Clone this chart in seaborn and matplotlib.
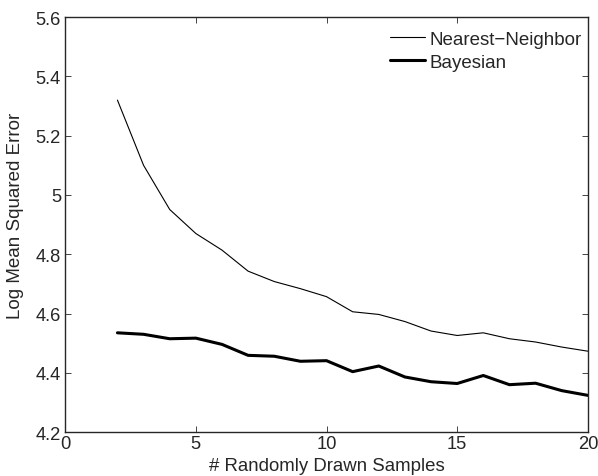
import numpy as np
import pandas as pd
import matplotlib
matplotlib.use('Agg')
import matplotlib.pyplot as plt
import seaborn as sns

# Data
samples = list(range(2, 21))
nearest_neighbor = [5.320, 5.100, 4.951, 4.870, 4.814, 4.743, 4.708, 4.684, 4.657, 4.606,
                    4.597, 4.573, 4.541, 4.526, 4.535, 4.515, 4.504, 4.487, 4.473]
bayesian = [4.535, 4.530, 4.515, 4.517, 4.496, 4.459, 4.456, 4.439, 4.441, 4.404,
            4.423, 4.386, 4.370, 4.364, 4.391, 4.360, 4.365, 4.340, 4.324]

df = pd.DataFrame({
    'samples': samples * 2,
    'error': nearest_neighbor + bayesian,
    'method': ['Nearest\u2212Neighbor'] * len(samples) + ['Bayesian'] * len(samples),
})

sns.set_style('ticks')
plt.rcParams['font.family'] = ['Liberation Sans', 'DejaVu Sans']
plt.rcParams['xtick.direction'] = 'in'
plt.rcParams['ytick.direction'] = 'in'

fig = plt.figure(figsize=(5.98, 4.77), dpi=100)
ax = fig.add_axes([0.109, 0.092, 0.874, 0.870])

sns.lineplot(data=df, x='samples', y='error', hue='method', size='method',
             sizes={'Nearest\u2212Neighbor': 0.8, 'Bayesian': 2.2},
             palette={'Nearest\u2212Neighbor': 'black', 'Bayesian': 'black'},
             ax=ax)

ax.set_xlim(0, 20)
ax.set_ylim(4.2, 5.6)
ax.set_xticks([0, 5, 10, 15, 20])
ax.set_yticks(np.arange(4.2, 5.61, 0.2))
ax.set_yticklabels(['4.2', '4.4', '4.6', '4.8', '5', '5.2', '5.4', '5.6'])
ax.tick_params(axis='both', which='both', top=True, right=True, labelsize=13.2,
               length=4, width=0.6)
ax.tick_params(axis='x', pad=2)
ax.tick_params(axis='y', pad=3)
for s in ax.spines.values():
    s.set_linewidth(1.0)
    s.set_visible(True)

ax.set_xlabel('# Randomly Drawn Samples', fontsize=13.4, labelpad=3.5)
ax.set_ylabel('Log Mean Squared Error', fontsize=13.5)
ax.yaxis.set_label_coords(-0.078, 0.523)

leg = ax.legend(loc='upper right', bbox_to_anchor=(1.003, 0.985), frameon=False,
                fontsize=13.5, handlelength=1.87, handletextpad=0.27,
                borderaxespad=0, labelspacing=0.31)

fig.savefig('out.png', dpi=100)
